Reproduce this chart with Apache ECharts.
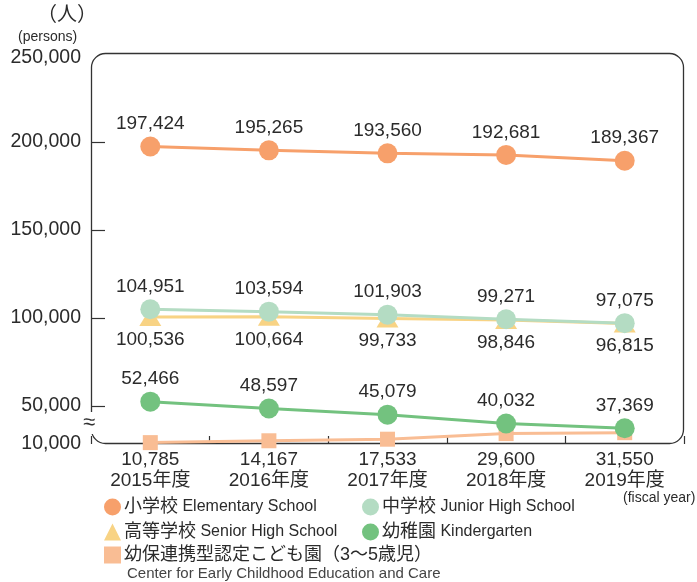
<!DOCTYPE html>
<html><head><meta charset="utf-8">
<script src="https://cdn.jsdelivr.net/npm/echarts@6/dist/echarts.min.js"></script>
<style>html,body{margin:0;padding:0;background:#fff}#c{width:697px;height:582px}</style>
</head><body><div id="c"></div>
<script>
const years = ['2015年度', '2016年度', '2017年度', '2018年度', '2019年度'];
const elementary = [197424, 195265, 193560, 192681, 189367];
const juniorHigh = [104951, 103594, 101903, 99271, 97075];
const seniorHigh = [100536, 100664, 99733, 98846, 96815];
const kindergarten = [52466, 48597, 45079, 40032, 37369];
const centerECEC = [10785, 14167, 17533, 29600, 31550];
const yLabelValues = [10000, 50000, 100000, 150000, 200000, 250000];
const yTickValues = [50000, 100000, 150000, 200000];

const N_EL = '小学校 Elementary School';
const N_JH = '中学校 Junior High School';
const N_SH = '高等学校 Senior High School';
const N_KG = '幼稚園 Kindergarten';
const N_CE = '幼保連携型認定こども園（3〜5歳児）';

const FONT = "'Liberation Sans','Noto Sans CJK JP',sans-serif";
const TXT = '#2b2b2b';
const fmt = v => v.toLocaleString('en-US');

const C_EL = '#F7A06B', C_JH = '#B4DCC3', C_SH = '#F8D384', C_KG = '#73C27F', C_CE = '#F9BD94';

function lineSeries(name, data, color, symbol, size, labelPos, dist) {
  return {
    name, type: 'line', data, symbol, symbolSize: size,
    itemStyle: { color }, lineStyle: { color, width: 3 },
    label: labelPos ? { show: true, position: labelPos, distance: dist, color: TXT, fontSize: 19, fontFamily: FONT, formatter: p => fmt(p.value) } : { show: false },
    emphasis: { disabled: true }, animation: false
  };
}

const legendRich = {
  a: { fontSize: 18, fontFamily: FONT, color: TXT },
  b: { fontSize: 16, fontFamily: FONT, color: TXT }
};
function legendFmt(name) {
  const i = name.indexOf(' ');
  if (i < 0) return '{a|' + name + '}';
  return '{a|' + name.slice(0, i) + '}{b| ' + name.slice(i + 1) + '}';
}
function legendOf(items, left, top) {
  return {
    orient: 'vertical', left, top, padding: 0, itemWidth: 17, itemHeight: 17, itemGap: 7,
    selectedMode: false, data: items, formatter: legendFmt,
    textStyle: { rich: legendRich, padding: [0, 0, 0, -2] }
  };
}

const chart = echarts.init(document.getElementById('c'), null, { renderer: 'canvas' });
chart.setOption({
  animation: false,
  textStyle: { fontFamily: FONT },
  grid: { left: 91, right: 13, top: 54, bottom: 138 },
  xAxis: {
    type: 'category', data: years, boundaryGap: true,
    axisLine: { show: false },
    axisTick: { show: true, inside: true, length: 8, interval: 0, lineStyle: { color: '#333', width: 1.2 } },
    axisLabel: {
      color: TXT, fontSize: 19, fontFamily: FONT, lineHeight: 21.5, margin: 5, interval: 0,
      formatter: (v, i) => fmt(centerECEC[i]) + '\n' + v
    }
  },
  yAxis: {
    type: 'value', min: 10000, max: 250000,
    breaks: [{ start: 11000, end: 36000, gap: 6600 }],
    breakArea: { show: false },
    axisLine: { show: false },
    splitLine: { show: false },
    axisTick: { show: true, inside: true, length: 14, customValues: yTickValues, lineStyle: { color: '#333', width: 1.2 } },
    axisLabel: {
      color: TXT, fontSize: 19.5, fontFamily: FONT, margin: 10, customValues: yLabelValues,
      formatter: v => v === 250000 ? '{t|' + fmt(v) + '}' : fmt(v),
      rich: { t: { fontSize: 19.5, fontFamily: FONT, color: TXT, padding: [8, 0, 0, 0] } }
    }
  },
  legend: [
    legendOf([{ name: N_EL, icon: 'circle' }, { name: N_SH, icon: 'triangle' }], 104, 498),
    legendOf([{ name: N_JH, icon: 'circle' }, { name: N_KG, icon: 'circle' }], 362, 498),
    legendOf([{ name: N_CE, icon: 'rect' }], 104, 546)
  ],
  graphic: [
    { type: 'rect', z: 1, shape: { x: 91.5, y: 53.5, width: 592, height: 390, r: 14 }, style: { fill: 'none', stroke: '#333', lineWidth: 1.3 } },
    { type: 'text', z: 10, left: 83, top: 412, style: { text: '≈', fontSize: 22, fontFamily: FONT, fill: '#333', backgroundColor: '#fff' } },
    { type: 'text', left: 37, top: 5, style: { text: '（人）', fontSize: 20, fontFamily: FONT, fill: TXT } },
    { type: 'text', left: 18, top: 30, style: { text: '(persons)', fontSize: 14, fontFamily: FONT, fill: TXT } },
    { type: 'text', left: 623, top: 491, style: { text: '(fiscal year)', fontSize: 14, fontFamily: FONT, fill: TXT } },
    { type: 'text', left: 127, top: 566, style: { text: 'Center for Early Childhood Education and Care', fontSize: 15, fontFamily: FONT, fill: '#444' } }
  ],
  series: [
    lineSeries(N_CE, centerECEC, C_CE, 'rect', 15, null, 0),
    lineSeries(N_KG, kindergarten, C_KG, 'circle', 20, 'top', 3),
    lineSeries(N_SH, seniorHigh, C_SH, 'triangle', [22, 18], 'bottom', 4),
    lineSeries(N_JH, juniorHigh, C_JH, 'circle', 20, 'top', 3),
    lineSeries(N_EL, elementary, C_EL, 'circle', 20, 'top', 3)
  ]
});
</script></body></html>
